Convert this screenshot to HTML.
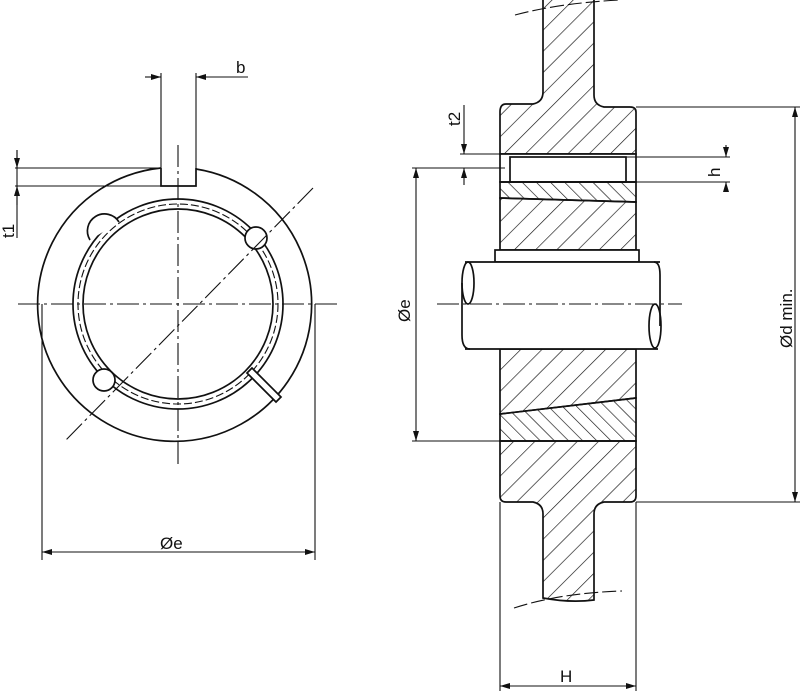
<!DOCTYPE html>
<html><head><style>body{margin:0;background:#fff}svg{display:block}</style></head><body>
<svg width="800" height="691" viewBox="0 0 800 691" xmlns="http://www.w3.org/2000/svg" font-family="Liberation Sans, sans-serif">
<defs>
<pattern id="h1" patternUnits="userSpaceOnUse" width="15" height="15" patternTransform="rotate(45)"><line x1="0" y1="0" x2="0" y2="15" stroke="#111" stroke-width="1.3"/></pattern>
<pattern id="h2" patternUnits="userSpaceOnUse" width="10" height="10" patternTransform="rotate(-45)"><line x1="0" y1="0" x2="0" y2="10" stroke="#111" stroke-width="1.3"/></pattern>
<marker id="a" viewBox="0 0 10 6" refX="10" refY="3" markerWidth="10" markerHeight="6" orient="auto-start-reverse" markerUnits="userSpaceOnUse"><path d="M0,0 L10,3 L0,6 z" fill="#111"/></marker>
</defs>
<g stroke="#111" fill="none" stroke-width="1.1">
<!-- LEFT VIEW -->
<path d="M161,168 A137,137 0 1 0 196,169" stroke-width="1.7"/>
<path d="M161,168 V186 H196 V168" stroke-width="1.7"/>
<circle cx="178" cy="304" r="105" stroke-width="1.7"/>
<circle cx="178" cy="304" r="95" stroke-width="1.7"/>
<circle cx="178" cy="304" r="100" stroke-dasharray="8,3"/>
<!-- bumps -->
<path d="M90,240 A14,14 0 1 1 119,222" fill="#fff" stroke-width="1.7"/>
<circle cx="256" cy="238" r="11" fill="#fff" stroke-width="1.7"/>
<circle cx="104" cy="380" r="11" fill="#fff" stroke-width="1.7"/>
<path d="M247,373 L276,402 L281,397 L252,368 Z" fill="#fff" stroke-width="1.7"/>
<!-- centerlines -->
<path d="M18,304 H340 M178,145 V465" stroke-dasharray="22,4,3,4"/>
<path d="M313,188 L64,442" stroke-dasharray="22,4,3,4"/>
<!-- b dim -->
<path d="M161,168 V73 M196,168 V73"/>
<line x1="145" y1="77" x2="161" y2="77" marker-end="url(#a)"/>
<line x1="248" y1="77" x2="196" y2="77" marker-end="url(#a)"/>
<!-- t1 -->
<path d="M15,168 H161 M15,186 H161 M17,150 V238"/>
<line x1="17" y1="150" x2="17" y2="168" marker-end="url(#a)"/>
<line x1="17" y1="205" x2="17" y2="186" marker-end="url(#a)"/>
<!-- Øe left -->
<path d="M42,304 V560 M315,304 V560"/>
<line x1="42" y1="552" x2="315" y2="552" marker-start="url(#a)" marker-end="url(#a)"/>

<!-- RIGHT VIEW -->
<path d="M543,0 V92 Q543,102 533,104 H506 Q500,104 500,112 V154 H636 V112 Q636,107 630,107 H604 Q594,105 594,95 V0" fill="url(#h1)" stroke-width="1.7"/>
<rect x="500" y="154" width="136" height="28" fill="#fff" stroke-width="1.7"/>
<rect x="510" y="157" width="116" height="25" stroke-width="1.7"/>
<path d="M500,182 H636 V202 L500,198 Z" fill="url(#h2)" stroke-width="1.7"/>
<path d="M500,198 L636,202 V250 H500 Z" fill="url(#h1)" stroke-width="1.7"/>
<rect x="495" y="250" width="144" height="12" fill="#fff" stroke-width="1.7"/>
<path d="M500,349 H636 V398 L500,414 Z" fill="url(#h1)" stroke-width="1.7"/>
<path d="M500,414 L636,398 V441 H500 Z" fill="url(#h2)" stroke-width="1.7"/>
<path d="M500,441 H636 V496 Q636,502 630,502 H604 Q594,504 594,514 V600 Q570,603 543,598 V514 Q543,504 533,502 H506 Q500,502 500,496 Z" fill="url(#h1)" stroke-width="1.7"/>
<!-- shaft -->
<rect x="465" y="262" width="195" height="87" fill="#fff" stroke="none"/>
<path d="M465,262 H660 M465,349 H658" stroke-width="1.7"/>
<ellipse cx="468" cy="283" rx="6" ry="21" stroke-width="1.7"/>
<path d="M462,283 V335 Q462,349 470,349" stroke-width="1.7"/>
<path d="M654,262 Q660,262 660,275 V326" stroke-width="1.7"/>
<ellipse cx="655" cy="326" rx="6" ry="22" stroke-width="1.7"/>
<path d="M437,304 H682" stroke-dasharray="22,4,3,4"/>
<!-- break lines -->
<path d="M515,15 Q560,3 620,0" stroke-dasharray="14,4"/>
<path d="M514,608 Q560,593 622,591" stroke-dasharray="14,4"/>
<!-- dims right -->
<path d="M636,107 H800 M636,502 H800"/>
<line x1="795" y1="120" x2="795" y2="107" marker-end="url(#a)"/>
<line x1="795" y1="120" x2="795" y2="502" marker-end="url(#a)"/>
<path d="M460,154 H636 M412,168 H505 M412,441 H500"/>
<line x1="416" y1="300" x2="416" y2="168" marker-end="url(#a)"/>
<line x1="416" y1="300" x2="416" y2="441" marker-end="url(#a)"/>
<line x1="464" y1="105" x2="464" y2="154" marker-end="url(#a)"/>
<line x1="464" y1="185" x2="464" y2="168" marker-end="url(#a)"/>
<path d="M626,157 H730 M636,182 H730"/>
<line x1="726" y1="145" x2="726" y2="157" marker-end="url(#a)"/>
<line x1="726" y1="192" x2="726" y2="182" marker-end="url(#a)"/>
<path d="M500,502 V691 M636,502 V691"/>
<line x1="500" y1="686" x2="636" y2="686" marker-start="url(#a)" marker-end="url(#a)"/>
</g>
<g fill="#111" font-size="17">
<text x="236" y="73">b</text>
<text x="14" y="238" transform="rotate(-90 14 238)">t1</text>
<text x="160" y="549">Øe</text>
<text x="460" y="126" transform="rotate(-90 460 126)">t2</text>
<text x="720" y="177" transform="rotate(-90 720 177)">h</text>
<text x="410" y="322" transform="rotate(-90 410 322)">Øe</text>
<text x="792" y="348" transform="rotate(-90 792 348)">Ød min.</text>
<text x="560" y="682">H</text>
</g>
</svg>
</body></html>
